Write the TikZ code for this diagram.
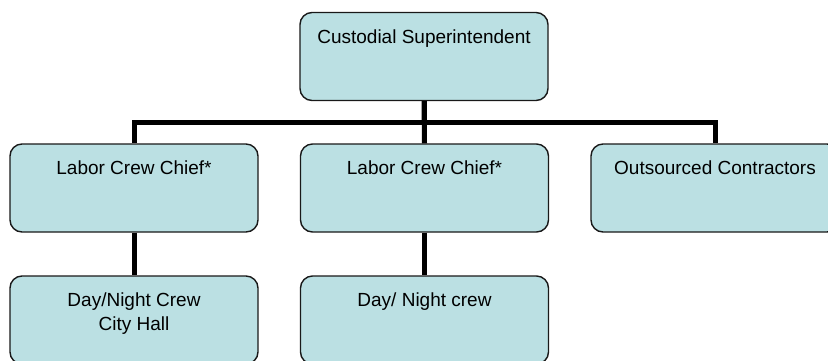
\documentclass[tikz,border=0pt]{standalone}
\usepackage{fontspec}
\setmainfont{Liberation Sans}
\definecolor{boxfill}{RGB}{187,224,227}
\newcommand {\orgfont} {\fontsize{19}{24}\selectfont}

\begin{document}
\begin{tikzpicture}[x=1pt,y=-1pt,
	orgbox/.style={draw=black!90, line width=1.4pt, fill=boxfill, rounded corners=12pt,
		minimum width=248pt, minimum height=88pt, inner sep=0pt, align=center,
		text height=30.5pt, text depth=57.5pt, font=\orgfont},
	twoline/.style={text height=54.5pt, text depth=33.5pt},
	conn/.style={line width=5pt, black}]
	\clip (0,0) rectangle (828,360);
	\node[orgbox] (sup) at (424,56.5) {Custodial Superintendent};
	\node[orgbox] (chiefA) at (134,188) {Labor Crew Chief*};
	\node[orgbox] (chiefB) at (424.5,188) {Labor Crew Chief*};
	\node[orgbox] (contr) at (715,188) {Outsourced Contractors};
	\node[orgbox,twoline] (crewA) at (134,320) {Day/Night Crew\\City Hall};
	\node[orgbox] (crewB) at (424.5,320) {Day/ Night crew};
	\draw[conn] (sup.south) -- ++(0,21) -| (chiefA.north);
	\draw[conn] (sup.south) -- ++(0,21) -| (contr.north);
	\draw[conn] (sup.south) -- (chiefB.north);
	\draw[conn] (chiefA.south) -- (crewA.north);
	\draw[conn] (chiefB.south) -- (crewB.north);
\end{tikzpicture}
\end{document}
